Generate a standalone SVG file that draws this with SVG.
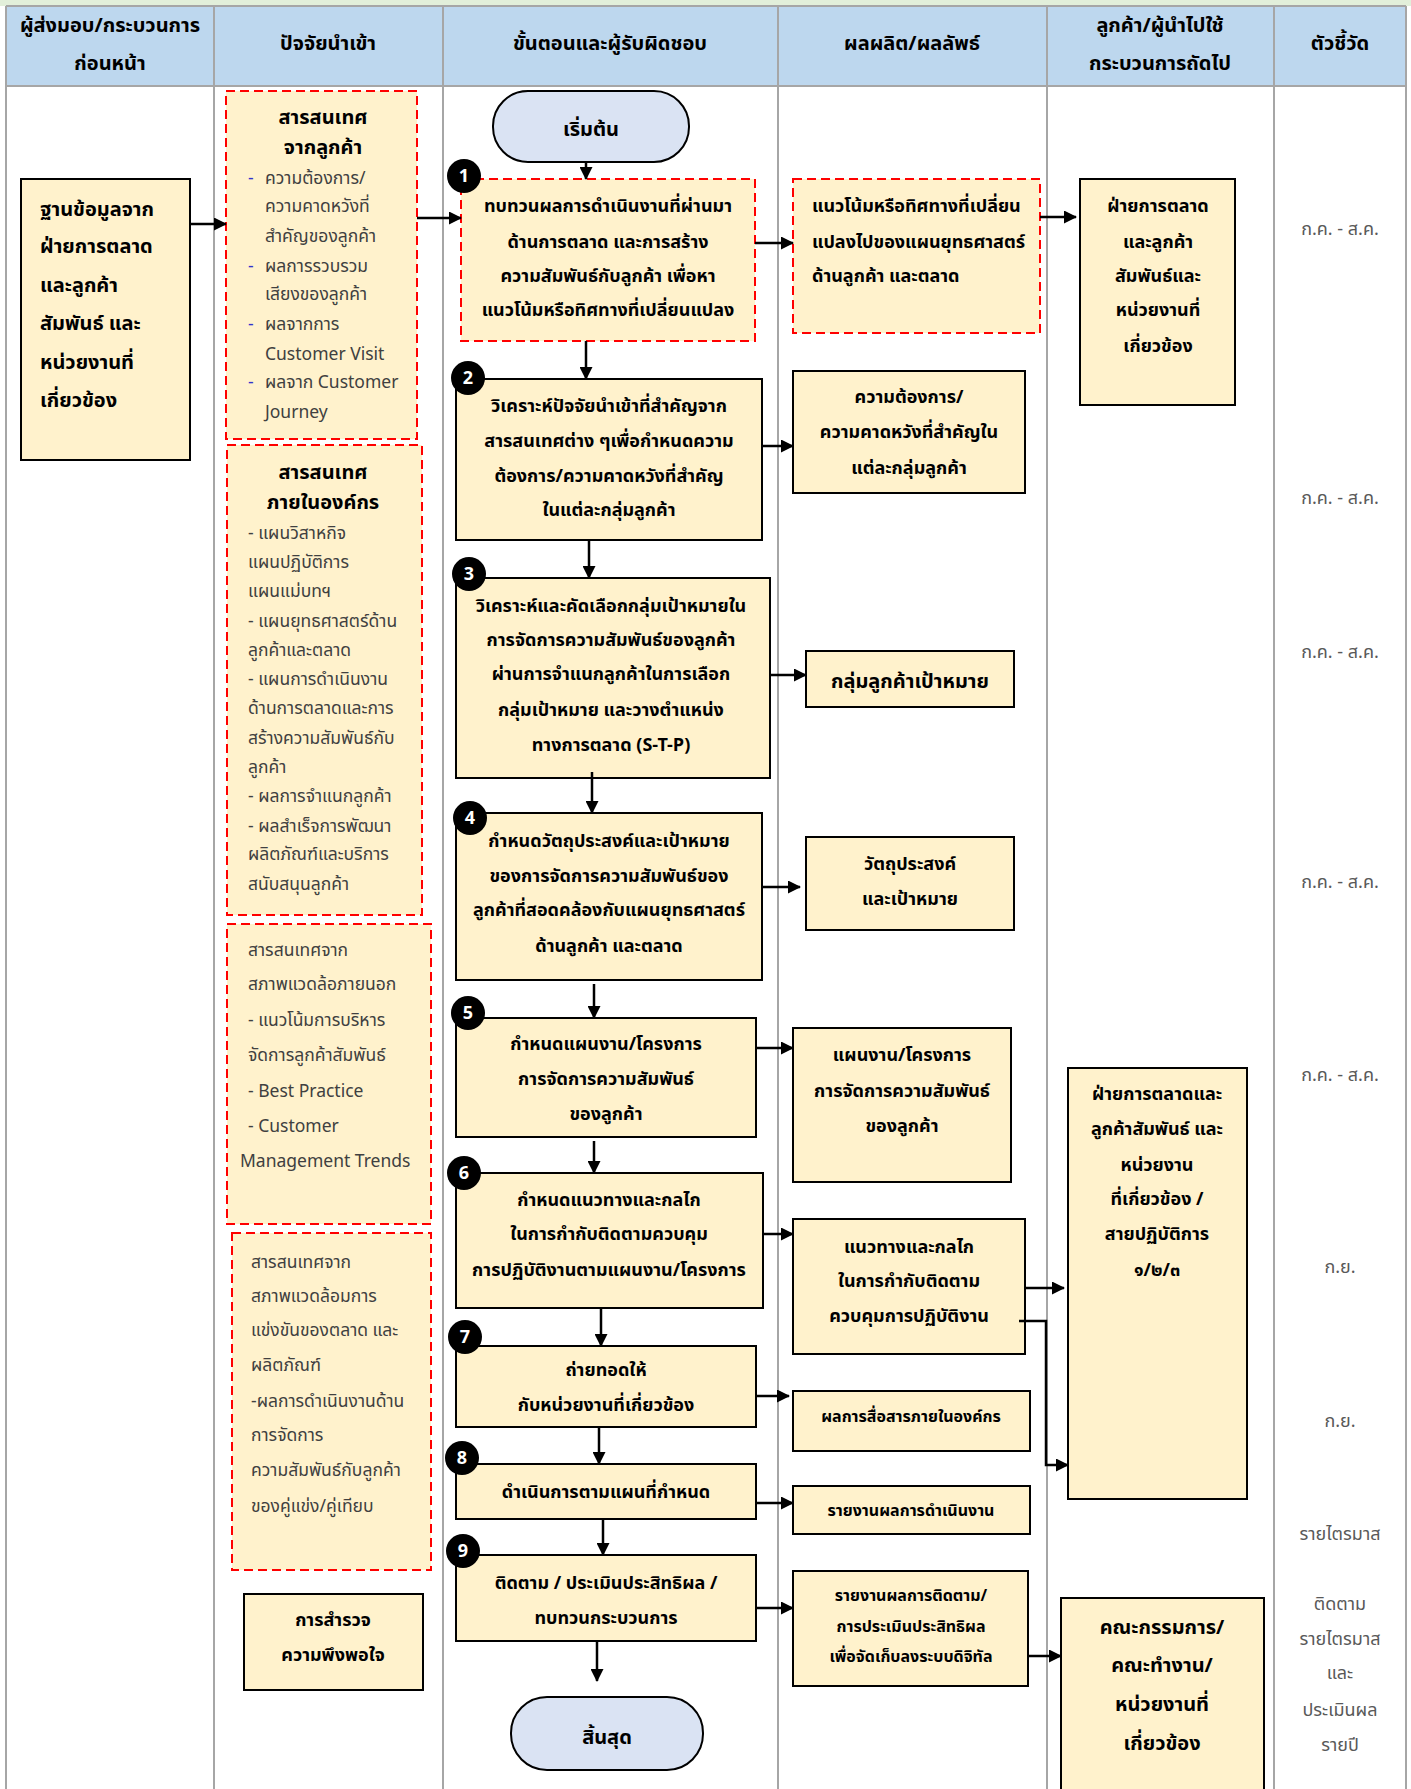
<svg xmlns="http://www.w3.org/2000/svg" width="1411" height="1789" viewBox="0 0 1411 1789">
<style>
text{font-family:"Leelawadee UI",Tahoma,"Noto Sans Thai","Noto Sans","DejaVu Sans",sans-serif;fill:#000}
.hd{font-size:20px;font-weight:bold;text-anchor:middle}
.box{fill:#FFF2CC;stroke:#000;stroke-width:2}
.dash{fill:#FFF2CC;stroke:#FF0000;stroke-width:2;stroke-dasharray:9 5}
.pill{fill:#DAE3F3;stroke:#000;stroke-width:2}
.grid{stroke:#A6A6A6;stroke-width:2;fill:none}
.b{font-size:18px;font-weight:bold;text-anchor:middle}
.bl{font-size:18px;font-weight:bold}
.it{font-size:17.5px;fill:#404040}
.ind{font-size:18px;fill:#595959;text-anchor:middle}
.sm{font-size:16px}
.bd{fill:#000}
.bn{font-size:18px;font-weight:bold;fill:#fff;text-anchor:middle}
.c{stroke:#000;stroke-width:2.5;fill:none}
</style>
<defs>
<marker id="ah" viewBox="0 0 13 13" refX="12" refY="6.5" markerWidth="13" markerHeight="13" markerUnits="userSpaceOnUse" orient="auto">
<path d="M0,0 L13,6.5 L0,13 Z" fill="#000"/>
</marker>
</defs>
<rect x="0" y="0" width="1411" height="1789" fill="#fff"/>
<rect x="0" y="0" width="1411" height="6" fill="#E2EFDA"/>
<!-- header -->
<g id="header">
<rect x="6" y="6" width="1400" height="80" fill="#BDD7EE"/>
<path class="grid" d="M6,6 H1406 M6,86 H1406 M6,6 V1789 M214,6 V1789 M443,6 V1789 M778,6 V1789 M1047,6 V1789 M1274,6 V1789 M1406,6 V1789"/>
<text class="hd" x="110" y="32">ผู้ส่งมอบ/กระบวนการ</text>
<text class="hd" x="110" y="70">ก่อนหน้า</text>
<text class="hd" x="328" y="50">ปัจจัยนำเข้า</text>
<text class="hd" x="610" y="50">ขั้นตอนและผู้รับผิดชอบ</text>
<text class="hd" x="912" y="50">ผลผลิต/ผลลัพธ์</text>
<text class="hd" x="1160" y="32">ลูกค้า/ผู้นำไปใช้</text>
<text class="hd" x="1160" y="70">กระบวนการถัดไป</text>
<text class="hd" x="1340" y="50">ตัวชี้วัด</text>
</g>
<!-- supplier -->
<g id="supplier">
<rect class="box" x="21" y="179" width="169" height="281"/>
<text class="bl" style="font-size:20px" x="40" y="216">ฐานข้อมูลจาก</text>
<text class="bl" style="font-size:20px" x="40" y="253">ฝ่ายการตลาด</text>
<text class="bl" style="font-size:20px" x="40" y="292">และลูกค้า</text>
<text class="bl" style="font-size:20px" x="40" y="330">สัมพันธ์ และ</text>
<text class="bl" style="font-size:20px" x="40" y="369">หน่วยงานที่</text>
<text class="bl" style="font-size:20px" x="40" y="407">เกี่ยวข้อง</text>
</g>
<!-- inputs -->
<g id="input1">
<rect class="dash" x="226" y="91" width="191" height="348"/>
<text class="b" style="font-size:20px" x="323" y="124">สารสนเทศ</text>
<text class="b" style="font-size:20px" x="323" y="154">จากลูกค้า</text>
<text class="it" x="248" y="184" style="fill:#3333CC">-</text>
<text class="it" x="265" y="184">ความต้องการ/</text>
<text class="it" x="265" y="212">ความคาดหวังที่</text>
<text class="it" x="265" y="242">สำคัญของลูกค้า</text>
<text class="it" x="248" y="272" style="fill:#3333CC">-</text>
<text class="it" x="265" y="272">ผลการรวบรวม</text>
<text class="it" x="265" y="300">เสียงของลูกค้า</text>
<text class="it" x="248" y="330" style="fill:#3333CC">-</text>
<text class="it" x="265" y="330">ผลจากการ</text>
<text class="it" x="265" y="360">Customer Visit</text>
<text class="it" x="248" y="388" style="fill:#3333CC">-</text>
<text class="it" x="265" y="388">ผลจาก Customer</text>
<text class="it" x="265" y="418">Journey</text>
</g>
<g id="input2">
<rect class="dash" x="227" y="445" width="195" height="470"/>
<text class="b" style="font-size:20px" x="323" y="479">สารสนเทศ</text>
<text class="b" style="font-size:20px" x="323" y="509">ภายในองค์กร</text>
<text class="it" x="248" y="539">- แผนวิสาหกิจ</text>
<text class="it" x="248" y="568">แผนปฏิบัติการ</text>
<text class="it" x="248" y="597">แผนแม่บทฯ</text>
<text class="it" x="248" y="627">- แผนยุทธศาสตร์ด้าน</text>
<text class="it" x="248" y="656">ลูกค้าและตลาด</text>
<text class="it" x="248" y="685">- แผนการดำเนินงาน</text>
<text class="it" x="248" y="714">ด้านการตลาดและการ</text>
<text class="it" x="248" y="744">สร้างความสัมพันธ์กับ</text>
<text class="it" x="248" y="773">ลูกค้า</text>
<text class="it" x="248" y="802">- ผลการจำแนกลูกค้า</text>
<text class="it" x="248" y="832">- ผลสำเร็จการพัฒนา</text>
<text class="it" x="248" y="860">ผลิตภัณฑ์และบริการ</text>
<text class="it" x="248" y="890">สนับสนุนลูกค้า</text>
</g>
<g id="input3">
<rect class="dash" x="227" y="924" width="204" height="300"/>
<text class="it" x="248" y="956">สารสนเทศจาก</text>
<text class="it" x="248" y="990">สภาพแวดล้อภายนอก</text>
<text class="it" x="248" y="1026">- แนวโน้มการบริหาร</text>
<text class="it" x="248" y="1061">จัดการลูกค้าสัมพันธ์</text>
<text class="it" x="248" y="1097">- Best Practice</text>
<text class="it" x="248" y="1132">- Customer</text>
<text class="it" x="240" y="1167">Management Trends</text>
</g>
<g id="input4">
<rect class="dash" x="232" y="1233" width="199" height="337"/>
<text class="it" x="251" y="1268">สารสนเทศจาก</text>
<text class="it" x="251" y="1302">สภาพแวดล้อมการ</text>
<text class="it" x="251" y="1336">แข่งขันของตลาด และ</text>
<text class="it" x="251" y="1371">ผลิตภัณฑ์</text>
<text class="it" x="251" y="1407">-ผลการดำเนินงานด้าน</text>
<text class="it" x="251" y="1441">การจัดการ</text>
<text class="it" x="251" y="1476">ความสัมพันธ์กับลูกค้า</text>
<text class="it" x="251" y="1512">ของคู่แข่ง/คู่เทียบ</text>
</g>
<g id="survey">
<rect class="box" x="244" y="1594" width="179" height="96"/>
<text class="b" x="333" y="1626">การสำรวจ</text>
<text class="b" x="333" y="1661">ความพึงพอใจ</text>
</g>
<!-- process -->
<g id="start">
<rect class="pill" x="493" y="91" width="196" height="71" rx="35"/>
<text class="b" style="font-size:20px" x="591" y="136">เริ่มต้น</text>
</g>
<g id="step1">
<rect class="dash" x="461" y="179" width="294" height="162"/>
<text class="b" x="608" y="212">ทบทวนผลการดำเนินงานที่ผ่านมา</text>
<text class="b" x="608" y="248">ด้านการตลาด และการสร้าง</text>
<text class="b" x="608" y="282">ความสัมพันธ์กับลูกค้า เพื่อหา</text>
<text class="b" x="608" y="316">แนวโน้มหรือทิศทางที่เปลี่ยนแปลง</text>
<circle class="bd" cx="464" cy="176" r="17"/><text class="bn" x="464" y="182">1</text>
</g>
<g id="step2">
<rect class="box" x="456" y="379" width="306" height="161"/>
<text class="b" x="609" y="412">วิเคราะห์ปัจจัยนำเข้าที่สำคัญจาก</text>
<text class="b" x="609" y="447">สารสนเทศต่าง ๆเพื่อกำหนดความ</text>
<text class="b" x="609" y="482">ต้องการ/ความคาดหวังที่สำคัญ</text>
<text class="b" x="609" y="516">ในแต่ละกลุ่มลูกค้า</text>
<circle class="bd" cx="468" cy="378" r="17"/><text class="bn" x="468" y="384">2</text>
</g>
<g id="step3">
<rect class="box" x="456" y="578" width="314" height="200"/>
<text class="b" x="611" y="612">วิเคราะห์และคัดเลือกกลุ่มเป้าหมายใน</text>
<text class="b" x="611" y="646">การจัดการความสัมพันธ์ของลูกค้า</text>
<text class="b" x="611" y="680">ผ่านการจำแนกลูกค้าในการเลือก</text>
<text class="b" x="611" y="716">กลุ่มเป้าหมาย และวางตำแหน่ง</text>
<text class="b" x="611" y="751">ทางการตลาด (S-T-P)</text>
<circle class="bd" cx="469" cy="574" r="17"/><text class="bn" x="469" y="580">3</text>
</g>
<g id="step4">
<rect class="box" x="456" y="813" width="306" height="167"/>
<text class="b" x="609" y="847">กำหนดวัตถุประสงค์และเป้าหมาย</text>
<text class="b" x="609" y="882">ของการจัดการความสัมพันธ์ของ</text>
<text class="b" x="609" y="916">ลูกค้าที่สอดคล้องกับแผนยุทธศาสตร์</text>
<text class="b" x="609" y="952">ด้านลูกค้า และตลาด</text>
<circle class="bd" cx="470" cy="818" r="17"/><text class="bn" x="470" y="824">4</text>
</g>
<g id="step5">
<rect class="box" x="456" y="1018" width="300" height="119"/>
<text class="b" x="606" y="1050">กำหนดแผนงาน/โครงการ</text>
<text class="b" x="606" y="1085">การจัดการความสัมพันธ์</text>
<text class="b" x="606" y="1120">ของลูกค้า</text>
<circle class="bd" cx="468" cy="1013" r="17"/><text class="bn" x="468" y="1019">5</text>
</g>
<g id="step6">
<rect class="box" x="456" y="1173" width="307" height="135"/>
<text class="b" x="609" y="1206">กำหนดแนวทางและกลไก</text>
<text class="b" x="609" y="1240">ในการกำกับติดตามควบคุม</text>
<text class="b" x="609" y="1276">การปฏิบัติงานตามแผนงาน/โครงการ</text>
<circle class="bd" cx="464" cy="1173" r="17"/><text class="bn" x="464" y="1179">6</text>
</g>
<g id="step7">
<rect class="box" x="456" y="1346" width="300" height="81"/>
<text class="b" x="606" y="1376">ถ่ายทอดให้</text>
<text class="b" x="606" y="1411">กับหน่วยงานที่เกี่ยวข้อง</text>
<circle class="bd" cx="465" cy="1337" r="17"/><text class="bn" x="465" y="1343">7</text>
</g>
<g id="step8">
<rect class="box" x="456" y="1464" width="300" height="55"/>
<text class="b" x="606" y="1498">ดำเนินการตามแผนที่กำหนด</text>
<circle class="bd" cx="462" cy="1458" r="17"/><text class="bn" x="462" y="1464">8</text>
</g>
<g id="step9">
<rect class="box" x="456" y="1555" width="300" height="86"/>
<text class="b" x="606" y="1589">ติดตาม / ประเมินประสิทธิผล /</text>
<text class="b" x="606" y="1624">ทบทวนกระบวนการ</text>
<circle class="bd" cx="463" cy="1551" r="17"/><text class="bn" x="463" y="1557">9</text>
</g>
<g id="end">
<rect class="pill" x="511" y="1697" width="192" height="73" rx="36"/>
<text class="b" style="font-size:20px" x="607" y="1744">สิ้นสุด</text>
</g>
<!-- outputs -->
<g id="out1">
<rect class="dash" x="793" y="179" width="247" height="154"/>
<text class="bl" x="812" y="212">แนวโน้มหรือทิศทางที่เปลี่ยน</text>
<text class="bl" x="812" y="248">แปลงไปของแผนยุทธศาสตร์</text>
<text class="bl" x="812" y="282">ด้านลูกค้า และตลาด</text>
</g>
<g id="out2">
<rect class="box" x="793" y="371" width="232" height="122"/>
<text class="b" x="909" y="403">ความต้องการ/</text>
<text class="b" x="909" y="438">ความคาดหวังที่สำคัญใน</text>
<text class="b" x="909" y="474">แต่ละกลุ่มลูกค้า</text>
</g>
<g id="out3">
<rect class="box" x="806" y="651" width="208" height="56"/>
<text class="b" style="font-size:20px" x="910" y="688">กลุ่มลูกค้าเป้าหมาย</text>
</g>
<g id="out4">
<rect class="box" x="806" y="837" width="208" height="93"/>
<text class="b" x="910" y="870">วัตถุประสงค์</text>
<text class="b" x="910" y="905">และเป้าหมาย</text>
</g>
<g id="out5">
<rect class="box" x="793" y="1028" width="218" height="154"/>
<text class="b" x="902" y="1061">แผนงาน/โครงการ</text>
<text class="b" x="902" y="1097">การจัดการความสัมพันธ์</text>
<text class="b" x="902" y="1132">ของลูกค้า</text>
</g>
<g id="out6">
<rect class="box" x="793" y="1219" width="232" height="135"/>
<text class="b" x="909" y="1253">แนวทางและกลไก</text>
<text class="b" x="909" y="1287">ในการกำกับติดตาม</text>
<text class="b" x="909" y="1322">ควบคุมการปฏิบัติงาน</text>
</g>
<g id="out7">
<rect class="box" x="793" y="1391" width="237" height="60"/>
<text class="b sm" x="911" y="1422">ผลการสื่อสารภายในองค์กร</text>
</g>
<g id="out8">
<rect class="box" x="793" y="1486" width="237" height="48"/>
<text class="b sm" x="911" y="1516">รายงานผลการดำเนินงาน</text>
</g>
<g id="out9">
<rect class="box" x="793" y="1571" width="235" height="115"/>
<text class="b sm" x="911" y="1601">รายงานผลการติดตาม/</text>
<text class="b sm" x="911" y="1632">การประเมินประสิทธิผล</text>
<text class="b sm" x="911" y="1662">เพื่อจัดเก็บลงระบบดิจิทัล</text>
</g>
<!-- customers -->
<g id="cust1">
<rect class="box" x="1080" y="179" width="155" height="226"/>
<text class="b" x="1158" y="212">ฝ่ายการตลาด</text>
<text class="b" x="1158" y="248">และลูกค้า</text>
<text class="b" x="1158" y="282">สัมพันธ์และ</text>
<text class="b" x="1158" y="316">หน่วยงานที่</text>
<text class="b" x="1158" y="352">เกี่ยวข้อง</text>
</g>
<g id="cust2">
<rect class="box" x="1068" y="1068" width="179" height="431"/>
<text class="b" x="1157" y="1100">ฝ่ายการตลาดและ</text>
<text class="b" x="1157" y="1135">ลูกค้าสัมพันธ์ และ</text>
<text class="b" x="1157" y="1171">หน่วยงาน</text>
<text class="b" x="1157" y="1205">ที่เกี่ยวข้อง /</text>
<text class="b" x="1157" y="1240">สายปฏิบัติการ</text>
<text class="b" x="1157" y="1276">๑/๒/๓</text>
</g>
<g id="cust3">
<rect class="box" x="1061" y="1598" width="203" height="195"/>
<text class="b" style="font-size:20px" x="1162" y="1634">คณะกรรมการ/</text>
<text class="b" style="font-size:20px" x="1162" y="1672">คณะทำงาน/</text>
<text class="b" style="font-size:20px" x="1162" y="1711">หน่วยงานที่</text>
<text class="b" style="font-size:20px" x="1162" y="1750">เกี่ยวข้อง</text>
</g>
<!-- indicators -->
<g id="indicators">
<text class="ind" x="1340" y="235">ก.ค. - ส.ค.</text>
<text class="ind" x="1340" y="504">ก.ค. - ส.ค.</text>
<text class="ind" x="1340" y="658">ก.ค. - ส.ค.</text>
<text class="ind" x="1340" y="888">ก.ค. - ส.ค.</text>
<text class="ind" x="1340" y="1081">ก.ค. - ส.ค.</text>
<text class="ind" x="1340" y="1273">ก.ย.</text>
<text class="ind" x="1340" y="1427">ก.ย.</text>
<text class="ind" x="1340" y="1540">รายไตรมาส</text>
<text class="ind" x="1340" y="1610">ติดตาม</text>
<text class="ind" x="1340" y="1645">รายไตรมาส</text>
<text class="ind" x="1340" y="1679">และ</text>
<text class="ind" x="1340" y="1716">ประเมินผล</text>
<text class="ind" x="1340" y="1751">รายปี</text>
</g>
<!-- connectors -->
<g id="connectors" class="c">
<path class="c" d="M190,224 H226" marker-end="url(#ah)"/>
<path class="c" d="M417,218 H461" marker-end="url(#ah)"/>
<path class="c" d="M586,162 V179" marker-end="url(#ah)"/>
<path class="c" d="M586,341 V379" marker-end="url(#ah)"/>
<path class="c" d="M589,540 V578" marker-end="url(#ah)"/>
<path class="c" d="M592,772 V813" marker-end="url(#ah)"/>
<path class="c" d="M594,984 V1018" marker-end="url(#ah)"/>
<path class="c" d="M594,1141 V1173" marker-end="url(#ah)"/>
<path class="c" d="M601,1308 V1346" marker-end="url(#ah)"/>
<path class="c" d="M599,1427 V1464" marker-end="url(#ah)"/>
<path class="c" d="M603,1519 V1555" marker-end="url(#ah)"/>
<path class="c" d="M597,1641 V1681" marker-end="url(#ah)"/>
<path class="c" d="M755,243 H793" marker-end="url(#ah)"/>
<path class="c" d="M762,446 H793" marker-end="url(#ah)"/>
<path class="c" d="M770,675 H806" marker-end="url(#ah)"/>
<path class="c" d="M762,887 H800" marker-end="url(#ah)"/>
<path class="c" d="M756,1048 H793" marker-end="url(#ah)"/>
<path class="c" d="M763,1234 H793" marker-end="url(#ah)"/>
<path class="c" d="M756,1396 H789" marker-end="url(#ah)"/>
<path class="c" d="M756,1503 H793" marker-end="url(#ah)"/>
<path class="c" d="M756,1608 H793" marker-end="url(#ah)"/>
<path class="c" d="M1040,217 H1076" marker-end="url(#ah)"/>
<path class="c" d="M1025,1288 H1064" marker-end="url(#ah)"/>
<path class="c" d="M1019,1321 H1046 V1465 H1068" marker-end="url(#ah)"/>
<path class="c" d="M1028,1656 H1061" marker-end="url(#ah)"/>
</g>
</svg>
